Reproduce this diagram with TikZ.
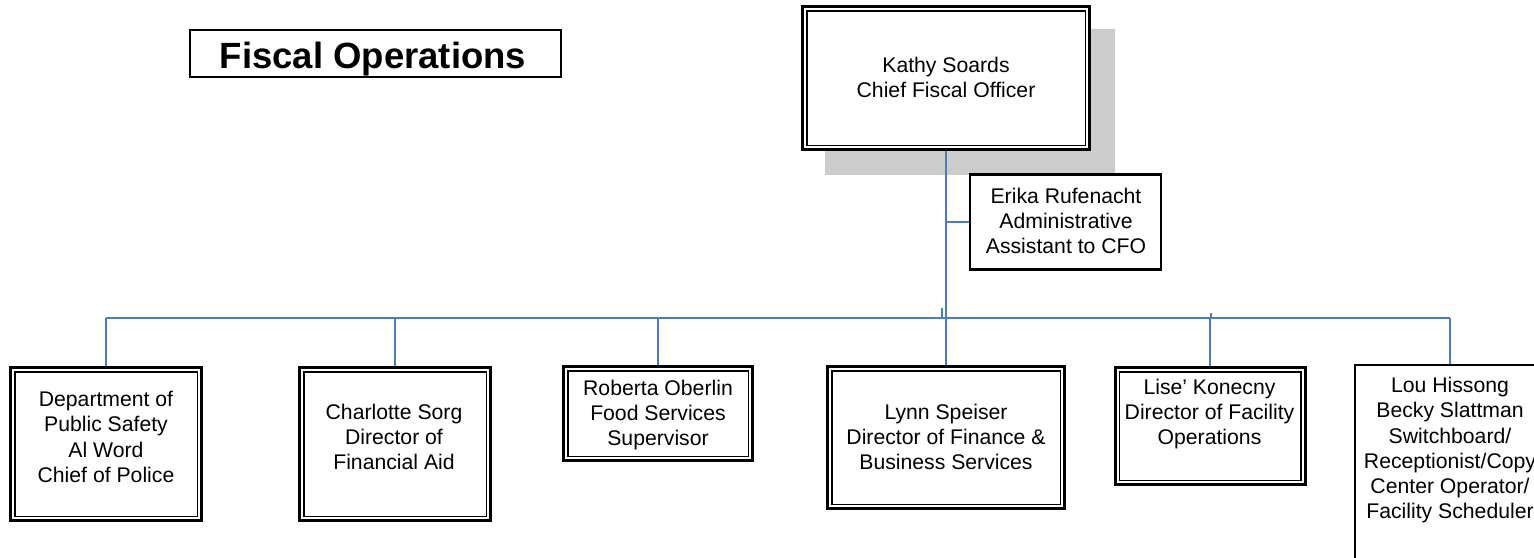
\documentclass[tikz,border=0pt]{standalone}
\usepackage{fontspec}
\setmainfont{Liberation Sans}
\definecolor{connblue}{RGB}{74,126,187}
\definecolor{shadowgray}{RGB}{204,204,204}
\tikzset{
  dbox/.style={draw=black, fill=white, line width=3pt, inner sep=0pt,
    path picture={\draw[line width=1.5pt]
      ([shift={(4.25pt,-4.25pt)}]path picture bounding box.north west) rectangle
      ([shift={(-4.25pt,4.25pt)}]path picture bounding box.south east);}},
  sbox/.style={draw=black, fill=white, line width=2.2pt, inner sep=0pt},
  txt/.style={font=\fontsize{21.2}{25.2}\selectfont, align=center, anchor=base, inner sep=0pt},
  ttl/.style={font=\bfseries\fontsize{36.5}{40}\selectfont, anchor=base, inner sep=0pt},
  conn/.style={draw=connblue, line width=2pt}
}
\begin{document}
\begin{tikzpicture}[x=1pt, y=-1pt]
\useasboundingbox (0,0) rectangle (1534,557);
\clip (0,0) rectangle (1534,557);
\fill[white] (0,0) rectangle (1534,557);

% title
\node[sbox, minimum width=370.8pt, minimum height=46.8pt] (titlebox) at (375.5,53.5) {};
\node[ttl] (title) at (373,68.3) {Fiscal Operations};

% connector end points
\coordinate (busL) at (106,318);
\coordinate (busR) at (1450,318);
\coordinate (tickA) at (942,308);
\coordinate (tickB) at (1211,313);

% shadow of top box
\fill[shadowgray] (825,29) rectangle (1115,175);

% boxes
\node[dbox, minimum width=287pt, minimum height=143pt] (kathy) at (946,78) {};
\node[sbox, minimum width=190.8pt, minimum height=95pt] (erika) at (1065.5,222) {};
\node[dbox, minimum width=191pt, minimum height=153pt] (dept) at (106,444) {};
\node[dbox, minimum width=191pt, minimum height=153pt] (charlotte) at (395,444) {};
\node[dbox, minimum width=189pt, minimum height=94pt] (roberta) at (658,413.5) {};
\node[dbox, minimum width=237pt, minimum height=142pt] (lynn) at (946,437.5) {};
\node[dbox, minimum width=190pt, minimum height=117pt] (lise) at (1210,426) {};
\node[sbox, minimum width=189.8pt, minimum height=240pt] (lou) at (1450,485) {};

% connectors
\draw[conn] (kathy.south) -- (lynn.north);
\draw[conn] (kathy.south |- erika.west) -- (erika.west);
\draw[conn] (busL) -- (busR);
\draw[conn] (dept.north) -- (dept.north |- busL);
\draw[conn] (charlotte.north) -- (charlotte.north |- busL);
\draw[conn] (roberta.north) -- (roberta.north |- busL);
\draw[conn] (lise.north) -- (lise.north |- busL);
\draw[conn] (lou.north) -- (lou.north |- busR);
\draw[conn, line width=1.2pt] (tickA) -- (tickA |- busL);
\draw[conn, line width=1.2pt] (tickB) -- (tickB |- busL);

% texts (anchor = baseline of the last line)
\node[txt] (kathyt) at (946,97.9) {Kathy Soards\\Chief Fiscal Officer};
\node[txt] (erikat) at (1066,253.5) {Erika Rufenacht\\Administrative\\Assistant to CFO};
\node[txt] (deptt) at (106,482.3) {Department of\\Public Safety\\Al Word\\Chief of Police};
\node[txt] (charlottet) at (394,469.4) {Charlotte Sorg\\Director of\\Financial Aid};
\node[txt] (robertat) at (658,445.4) {Roberta Oberlin\\Food Services\\Supervisor};
\node[txt] (lynnt) at (946,469.7) {Lynn Speiser\\Director of Finance \&\\Business Services};
\node[txt] (liset) at (1209.5,444.4) {Lise’ Konecny\\Director of Facility\\Operations};
\node[txt] (lout) at (1450,518.7) {Lou Hissong\\Becky Slattman\\Switchboard/\\Receptionist/Copy\\Center Operator/\\Facility Scheduler};
\end{tikzpicture}
\end{document}
